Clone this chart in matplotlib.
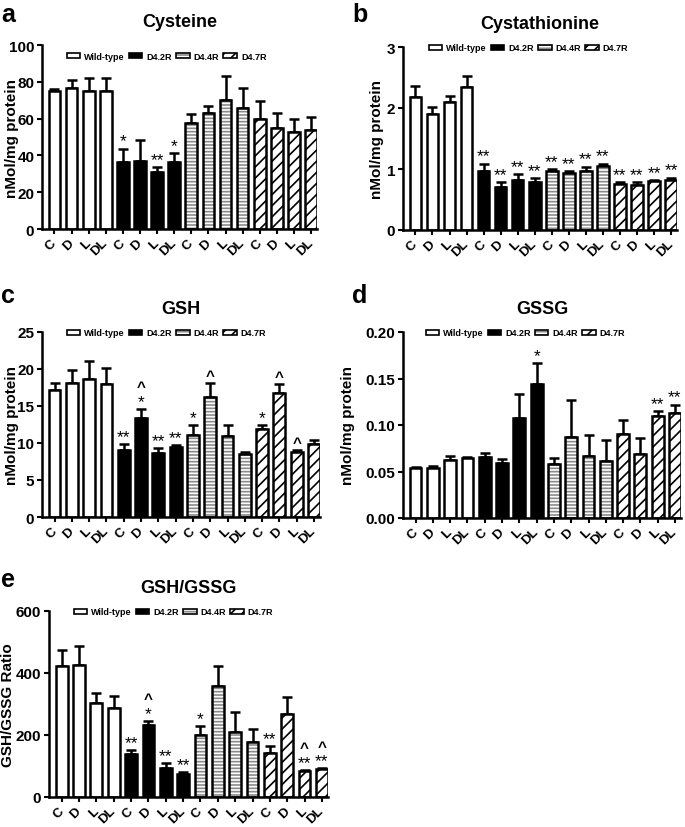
import matplotlib
matplotlib.use('Agg')
import matplotlib.pyplot as plt
from matplotlib.patches import Patch
import numpy as np

plt.rcParams['font.family'] = ['Liberation Sans', 'DejaVu Sans']
plt.rcParams['hatch.linewidth'] = 1.2

# ---------------- data ----------------
groups = ['Wild-type', 'D4.2R', 'D4.4R', 'D4.7R']
treatments = ['C', 'D', 'L', 'DL']
tick_labels = treatments * 4

cys_mean = [75.2, 76.4, 75.0, 74.8, 36.6, 37.1, 31.2, 36.6, 57.4, 62.9, 70.1, 65.8, 59.8, 54.9, 52.5, 54.0]
cys_top = [76.1, 81.2, 82.1, 82.1, 43.7, 48.4, 33.5, 41.3, 62.3, 66.7, 83.3, 76.8, 69.6, 63.0, 59.8, 61.0]
cys_sig = ['', '', '', '', '*', '', '**', '*', '', '', '', '', '', '', '', '']

cysta_mean = [2.18, 1.90, 2.10, 2.34, 0.97, 0.70, 0.82, 0.78, 0.96, 0.94, 0.97, 1.05, 0.76, 0.73, 0.80, 0.82]
cysta_top = [2.36, 2.01, 2.20, 2.53, 1.09, 0.79, 0.91, 0.85, 1.00, 0.97, 1.04, 1.09, 0.79, 0.79, 0.82, 0.86]
cysta_sig = ['', '', '', ''] + ['**'] * 12

gsh_mean = [17.1, 18.1, 18.7, 18.0, 9.0, 13.4, 8.7, 9.5, 11.1, 16.2, 11.0, 8.5, 11.9, 16.7, 8.8, 9.9]
gsh_top = [18.1, 19.8, 21.1, 20.1, 9.9, 14.6, 9.3, 9.7, 12.4, 18.1, 12.4, 8.8, 12.4, 18.0, 9.0, 10.4]
gsh_sig = ['', '', '', '', '**', '^\n*', '**', '**', '*', '^', '', '', '*', '^', '^', '']

gssg_mean = [0.054, 0.054, 0.062, 0.064, 0.066, 0.059, 0.107, 0.144, 0.058, 0.087, 0.067, 0.061, 0.090, 0.069, 0.110, 0.113]
gssg_top = [0.055, 0.056, 0.067, 0.066, 0.070, 0.063, 0.133, 0.167, 0.065, 0.127, 0.089, 0.084, 0.105, 0.086, 0.115, 0.122]
gssg_sig = ['', '', '', '', '', '', '', '*', '', '', '', '', '', '', '**', '**']

ratio_mean = [424, 427, 304, 286, 139, 231, 93, 73, 200, 358, 211, 176, 142, 268, 84, 90]
ratio_top = [473, 488, 336, 325, 151, 245, 109, 81, 229, 422, 275, 219, 165, 323, 87, 93]
ratio_sig = ['', '', '', '', '**', '^\n*', '**', '**', '*', '', '', '', '**', '', '^\n**', '^\n**']

# ---------------- figure ----------------
W, H = 685, 828
fig = plt.figure(figsize=(W / 100, H / 100), dpi=100)


def rect(l, r, t, b):
    return [l / W, 1 - b / H, (r - l) / W, (b - t) / H]


def draw_panel(r, means, tops, sig, ylim, yticks, fmt, ylabel, ylab_x, title, letter, lxy, leg_xy):
    ax = fig.add_axes(r)
    x = np.arange(len(means))
    means = np.asarray(means, float)
    tops = np.asarray(tops, float)
    bw = 0.68
    lw = 1.8
    ax.errorbar(x, means, yerr=[np.zeros_like(means), tops - means], fmt='none',
                ecolor='black', elinewidth=lw, capsize=3.5, capthick=lw, zorder=1)
    for g in range(4):
        idx = x[g * 4:(g + 1) * 4]
        m = means[g * 4:(g + 1) * 4]
        if g == 0:
            ax.bar(idx, m, bw, color='white', edgecolor='black', linewidth=lw, zorder=2)
        elif g == 1:
            ax.bar(idx, m, bw, color='black', edgecolor='black', linewidth=lw, zorder=2)
        elif g == 2:
            ax.bar(idx, m, bw, color='white', edgecolor='#8a8a8a', hatch='-----', linewidth=0, zorder=2)
            ax.bar(idx, m, bw, fill=False, edgecolor='black', linewidth=lw, zorder=3)
        else:
            ax.bar(idx, m, bw, color='white', edgecolor='black', hatch='///', linewidth=lw, zorder=2)
    # significance marks
    for xi, top, s in zip(x, tops, sig):
        if not s:
            continue
        lines = s.split('\n')[::-1]
        off = 0.0
        for k, t in enumerate(lines):
            ax.annotate(t, (xi, top), xytext=(0, off), textcoords='offset points',
                        ha='center', va='bottom', fontsize=12.5 if t != '^' else 11,
                        fontweight='bold' if t == '^' else 'normal',
                        annotation_clip=False)
            off += 10.5
    ax.set_xlim(-0.73, 15.35)
    ax.set_ylim(*ylim)
    ax.set_yticks(yticks)
    ax.set_yticklabels([fmt.format(v) for v in yticks], fontsize=11, fontweight='bold')
    ax.set_xticks(x)
    ax.set_xticklabels(tick_labels, rotation=45, ha='right', va='center',
                       rotation_mode='anchor', fontsize=9.5, fontweight='bold')
    ax.tick_params(axis='both', width=1.5, length=3.5, direction='out')
    ax.tick_params(axis='x', pad=5)
    ax.tick_params(axis='y', pad=2)
    for s in ['top', 'right']:
        ax.spines[s].set_visible(False)
    for s in ['left', 'bottom']:
        ax.spines[s].set_linewidth(1.8)
    ax.set_ylabel(ylabel, fontsize=11, fontweight='bold')
    ax.yaxis.set_label_coords(ylab_x, 0.5)
    ax.set_title(title, fontsize=13, fontweight='bold', pad=14)
    fig.text(lxy[0] / W, 1 - lxy[1] / H, letter, fontsize=18, fontweight='bold',
             ha='left', va='baseline')
    handles = [Patch(facecolor='white', edgecolor='black', linewidth=1.2),
               Patch(facecolor='black', edgecolor='black', linewidth=1.2),
               (Patch(facecolor='white', edgecolor='#8a8a8a', hatch='-----', linewidth=0),
                Patch(fill=False, edgecolor='black', linewidth=1.2)),
               Patch(facecolor='white', edgecolor='black', hatch='///', linewidth=1.2)]
    ax.legend(handles, groups, loc='center', bbox_to_anchor=leg_xy, ncol=4, frameon=False,
              prop={'size': 6.5, 'weight': 'bold'}, handlelength=1.5, handleheight=0.55,
              handletextpad=0.45, columnspacing=0.45, borderpad=0)
    return ax


draw_panel(rect(42, 317, 46, 230), cys_mean, cys_top, cys_sig, (0, 100), [0, 20, 40, 60, 80, 100],
           '{:.0f}', 'nMol/mg protein', -0.085, 'Cysteine', 'a', (1, 22), (0.453, 0.94))
draw_panel(rect(403, 677, 48, 231), cysta_mean, cysta_top, cysta_sig, (0, 3), [0, 1, 2, 3],
           '{:.0f}', 'nMol/mg protein', -0.069, 'Cystathionine', 'b', (352, 22), (0.458, 0.995))
draw_panel(rect(42, 320, 333, 518), gsh_mean, gsh_top, gsh_sig, (0, 25), [0, 5, 10, 15, 20, 25],
           '{:.0f}', 'nMol/mg protein', -0.084, 'GSH', 'c', (1, 303), (0.448, 0.995))
draw_panel(rect(403, 681, 333, 519), gssg_mean, gssg_top, gssg_sig, (0, 0.2), [0, 0.05, 0.10, 0.15, 0.20],
           '{:.2f}', 'nMol/mg protein', -0.172, 'GSSG', 'd', (352, 303), (0.44, 0.995))
draw_panel(rect(49, 328, 612, 798), ratio_mean, ratio_top, ratio_sig, (0, 600), [0, 200, 400, 600],
           '{:.0f}', 'GSH/GSSG Ratio', -0.122, 'GSH/GSSG', 'e', (1, 587), (0.446, 0.995))

fig.savefig('out.png', dpi=100)
